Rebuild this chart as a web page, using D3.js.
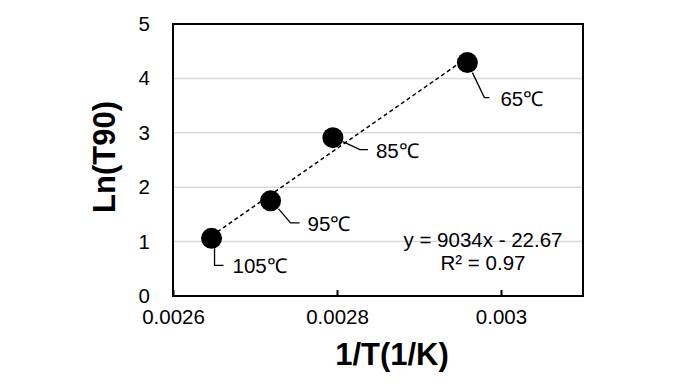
<!DOCTYPE html>
<html>
<head>
<meta charset="utf-8">
<script src="https://cdn.jsdelivr.net/npm/d3@7"></script>
<style>
  body { margin: 0; background: #fff; }
  text { font-family: "Liberation Sans", Arial, sans-serif; fill: #000; }
</style>
</head>
<body>
<div id="chart"></div>
<script>
// data
const tempLabels = ['105℃', '95℃', '85℃', '65℃'];
const invT = [0.002647, 0.002719, 0.002795, 0.002959];
const lnT90 = [1.06, 1.75, 2.91, 4.29];
const xTicks = [0.0026, 0.0028, 0.003];
const yTicks = [0, 1, 2, 3, 4, 5];
const equationLines = ['y = 9034x - 22.67', 'R² = 0.97'];

// leader line offsets from the marker (px): start, bend, end, text x
const leaders = [
  {s: [3, 10], b: [3, 27], e: [12, 27], t: 21},
  {s: [8, 8], b: [20, 22], e: [29, 22], t: 37},
  {s: [10, 4], b: [27, 12], e: [35, 12], t: 43},
  {s: [5, 10], b: [17, 35], e: [22, 35], t: 33}
];

const width = 697;
const height = 392;
const margin = {top: 24, right: 114, bottom: 96, left: 173};
const w = width - margin.left - margin.right;
const h = height - margin.top - margin.bottom;
const smallFont = '20.5px';

const svg = d3.select('#chart').append('svg')
  .attr('width', width)
  .attr('height', height);

const g = svg.append('g')
  .attr('transform', 'translate(' + margin.left + ',' + margin.top + ')');

const x = d3.scaleLinear().domain([0.0026, 0.0031]).range([0, w]);
const y = d3.scaleLinear().domain([0, 5]).range([h, 0]);

// gridlines
g.append('g')
  .selectAll('line')
  .data(yTicks.filter(d => d > 0 && d < 5))
  .enter()
  .append('line')
  .attr('x1', 0)
  .attr('x2', w)
  .attr('y1', d => y(d))
  .attr('y2', d => y(d))
  .attr('stroke', '#d9d9d9')
  .attr('stroke-width', 1.5);

// y axis labels
const yAxis = g.append('g')
  .call(d3.axisLeft(y).tickValues(yTicks).tickSize(0).tickPadding(23).tickFormat(d3.format('d')));
yAxis.select('.domain').remove();
yAxis.selectAll('text')
  .style('font-size', smallFont)
  .style('font-family', '"Liberation Sans", Arial, sans-serif');

// x axis, ticks point inward
const xAxis = g.append('g')
  .attr('transform', 'translate(0,' + h + ')')
  .call(d3.axisBottom(x).tickValues(xTicks).tickSizeInner(-6).tickSizeOuter(0).tickPadding(13)
    .tickFormat(d => String(+d.toFixed(4))));
xAxis.select('.domain').remove();
xAxis.selectAll('line').attr('stroke', '#000').attr('stroke-width', 2);
xAxis.selectAll('text')
  .style('font-size', smallFont)
  .style('font-family', '"Liberation Sans", Arial, sans-serif');

// plot frame
g.append('rect')
  .attr('width', w)
  .attr('height', h)
  .attr('fill', 'none')
  .attr('stroke', '#000')
  .attr('stroke-width', 2);

// least squares trendline
const n = invT.length;
const mx = d3.mean(invT);
const my = d3.mean(lnT90);
let sxy = 0;
let sxx = 0;
for (let i = 0; i < n; i++) {
  sxy += (invT[i] - mx) * (lnT90[i] - my);
  sxx += (invT[i] - mx) * (invT[i] - mx);
}
const slope = sxy / sxx;
const intercept = my - slope * mx;
const xExt = d3.extent(invT);

g.append('line')
  .attr('x1', x(xExt[0]))
  .attr('x2', x(xExt[1]))
  .attr('y1', y(slope * xExt[0] + intercept))
  .attr('y2', y(slope * xExt[1] + intercept))
  .attr('stroke', '#000')
  .attr('stroke-width', 1.5)
  .attr('stroke-dasharray', '4,3');

const points = invT.map((d, i) => ({x: d, y: lnT90[i], label: tempLabels[i], lead: leaders[i]}));

// leader lines
g.append('g')
  .selectAll('polyline')
  .data(points)
  .enter()
  .append('polyline')
  .attr('points', d => {
    const px = x(d.x);
    const py = y(d.y);
    return [d.lead.s, d.lead.b, d.lead.e].map(p => (px + p[0]) + ',' + (py + p[1])).join(' ');
  })
  .attr('fill', 'none')
  .attr('stroke', '#000')
  .attr('stroke-width', 1.3);

// markers
g.append('g')
  .selectAll('circle')
  .data(points)
  .enter()
  .append('circle')
  .attr('cx', d => x(d.x))
  .attr('cy', d => y(d.y))
  .attr('r', 10.5)
  .attr('fill', '#000');

// point labels
g.append('g')
  .selectAll('text')
  .data(points)
  .enter()
  .append('text')
  .attr('x', d => x(d.x) + d.lead.t)
  .attr('y', d => y(d.y) + d.lead.e[1] + 8)
  .style('font-size', smallFont)
  .text(d => d.label);

// equation
g.append('g')
  .selectAll('text')
  .data(equationLines)
  .enter()
  .append('text')
  .attr('x', 310)
  .attr('y', (d, i) => 223 + i * 23)
  .attr('text-anchor', 'middle')
  .style('font-size', smallFont)
  .text(d => d);

// axis titles
svg.append('text')
  .attr('x', 392)
  .attr('y', 365)
  .attr('text-anchor', 'middle')
  .style('font-size', '31px')
  .style('font-weight', 'bold')
  .text('1/T(1/K)');

svg.append('text')
  .attr('transform', 'translate(115,157) rotate(-90)')
  .attr('text-anchor', 'middle')
  .style('font-size', '31px')
  .style('font-weight', 'bold')
  .text('Ln(T90)');
</script>
</body>
</html>
